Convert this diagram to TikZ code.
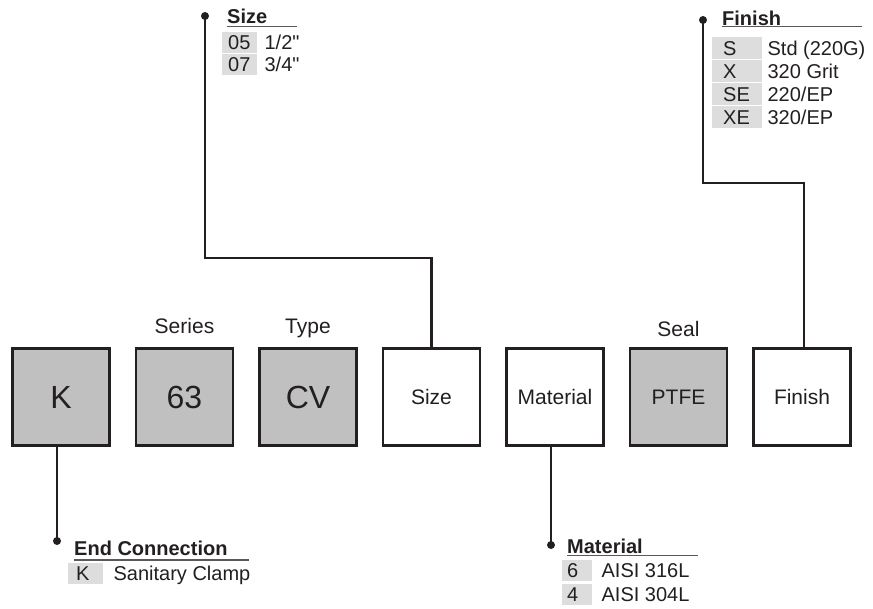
\documentclass[tikz,border=0pt]{standalone}
\usepackage{fontspec}
\setmainfont{Liberation Sans}
\usetikzlibrary{positioning}

\definecolor{inkc}{HTML}{231F20}
\definecolor{boxgray}{HTML}{C0C0C0}
\definecolor{cellgray}{HTML}{DDDDDD}
\newcommand\fsBig{\fontsize{32}{38}\selectfont}
\newcommand\fsBox{\fontsize{21}{25}\selectfont}
\newcommand\fsLeg{\fontsize{20}{24}\selectfont}

\tikzset{
    partbox/.style={draw=inkc, line width=2.5, minimum width=97, minimum height=97,
        inner sep=0, outer sep=0, text=inkc, font=\fsBox},
    partlbl/.style={anchor=base, inner sep=0, text=inkc, font=\fsBox},
    wire/.style={draw=inkc, line width=2.6},
    rule/.style={draw=black!65, line width=1.4},
    legtitle/.style={anchor=base west, inner sep=0, text=inkc, font=\fsLeg\bfseries},
    codecell/.style 2 args={fill=cellgray, anchor=north west, inner ysep=0,
        inner xsep=#1, text width=#2, minimum height=21, align=left,
        text=inkc, font=\fsLeg},
    valtext/.style={anchor=base west, inner sep=0, text=inkc, font=\fsLeg}
}

\begin{document}
\begin{tikzpicture}[x=1pt, y=-1pt, node distance=26.5pt]
    \useasboundingbox (0,0) rectangle (873,608);

    % the part number
    \node[partbox, fill=boxgray, font=\fsBig] (endbox) at (61,397) {K};
    \node[partbox, fill=boxgray, font=\fsBig, right=of endbox] (seriesbox) {63};
    \node[partbox, fill=boxgray, font=\fsBig, right=of seriesbox] (typebox) {CV};
    \node[partbox, right=of typebox] (sizebox) {Size};
    \node[partbox, right=of sizebox] (matbox) {Material};
    \node[partbox, fill=boxgray, right=of matbox] (sealbox) {PTFE};
    \node[partbox, right=of sealbox] (finbox) {Finish};

    \node[partlbl] (serieslbl) at ([yshift=15.5]seriesbox.north) {Series};
    \node[partlbl] (typelbl) at ([yshift=15.5]typebox.north) {Type};
    \node[partlbl] (seallbl) at ([yshift=12.5]sealbox.north) {Seal};

    % size legend
    \coordinate (sizedot) at (205,16);
    \coordinate (sizeelbow) at (205,258);
    \node[legtitle] (sizettl) at (227,23) {Size};
    \draw[rule] ([yshift=-3.5]sizettl.base west) -- ++(70,0);
    \foreach \code/\val [count=\i from 0] in {05/{1/2\textquotedbl},07/{3/4\textquotedbl}} {
        \node[codecell={6}{23}] (sizec\i) at (222,32+22*\i) {\code};
        \node[valtext] (sizev\i) at ([xshift=7]sizec\i.base east) {\val};
    }
    \draw[wire] (sizebox.north) |- (sizeelbow) -- (sizedot);
    \fill[inkc] (sizedot) circle[radius=4pt];

    % finish legend
    \coordinate (findot) at (703,20);
    \coordinate (finelbow) at (703,183);
    \node[legtitle] (finttl) at (722,25) {Finish};
    \draw[rule] ([yshift=-1.5]finttl.base west) -- ++(140,0);
    \foreach \code/\val [count=\i from 0] in {S/Std (220G),X/320 Grit,SE/{220/EP},XE/{320/EP}} {
        \node[codecell={11}{28}, minimum height=22] (finc\i) at (712,37+23*\i) {\code};
        \node[valtext] (finv\i) at ([xshift=5]finc\i.base east) {\val};
    }
    \draw[wire] ([xshift=2]finbox.north) |- (finelbow) -- (findot);
    \fill[inkc] (findot) circle[radius=4pt];

    % end connection legend
    \coordinate (enddot) at (57,541);
    \node[legtitle] (endttl) at (74,555) {End Connection};
    \draw[rule] ([yshift=-5]endttl.base west) -- ++(175,0);
    \node[codecell={8}{19}] (endc0) at (68,563) {K};
    \node[valtext] (endv0) at ([xshift=10]endc0.base east) {Sanitary Clamp};
    \draw[wire] (enddot |- endbox.south) -- (enddot);
    \fill[inkc] (enddot) circle[radius=4pt];

    % material legend
    \coordinate (matdot) at (551,545);
    \node[legtitle] (matttl) at (567,553) {Material};
    \draw[rule] ([yshift=-2.5]matttl.base west) -- ++(131,0);
    \foreach \code/\val [count=\i from 0] in {6/AISI 316L,4/AISI 304L} {
        \node[codecell={5}{20}] (matc\i) at (562,560+24*\i) {\code};
        \node[valtext] (matv\i) at ([xshift=9]matc\i.base east) {\val};
    }
    \draw[wire] (matdot |- matbox.south) -- (matdot);
    \fill[inkc] (matdot) circle[radius=4pt];
\end{tikzpicture}
\end{document}
